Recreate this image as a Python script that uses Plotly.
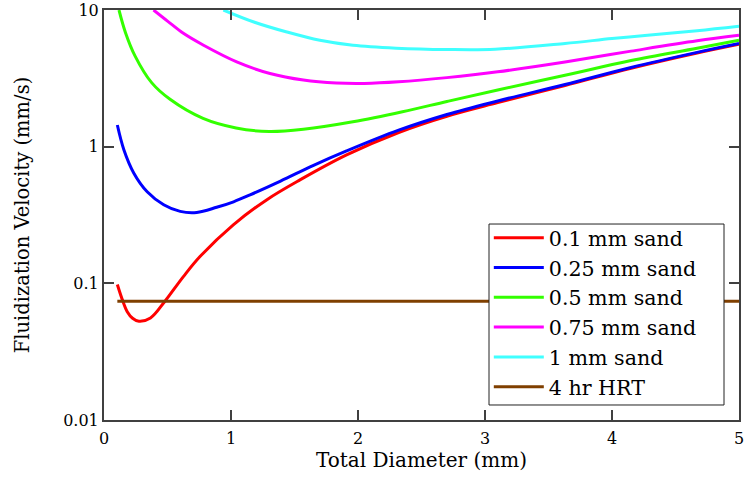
import plotly.graph_objects as go

# Total diameter (mm) and fluidization velocity (mm/s)
x_red = [0.105, 0.144, 0.183, 0.225, 0.275, 0.366, 0.48, 0.625, 0.756, 1.018, 1.28, 1.543, 1.91, 2.32, 2.7, 3.1, 3.63, 4.15, 4.67, 5.0]
y_red = [0.098, 0.076, 0.062, 0.0555, 0.0528, 0.0558, 0.074, 0.112, 0.157, 0.268, 0.408, 0.571, 0.87, 1.27, 1.67, 2.1, 2.8, 3.75, 4.85, 5.62]

x_blue = [0.105, 0.157, 0.235, 0.34, 0.47, 0.6, 0.73, 0.887, 1.02, 1.15, 1.39, 1.65, 1.91, 2.32, 2.7, 3.1, 3.63, 4.15, 4.67, 5.0]
y_blue = [1.44, 0.946, 0.64, 0.468, 0.376, 0.336, 0.33, 0.36, 0.395, 0.444, 0.56, 0.73, 0.93, 1.32, 1.72, 2.16, 2.85, 3.8, 4.9, 5.69]

x_green = [0.118, 0.17, 0.245, 0.375, 0.52, 0.78, 1.04, 1.3, 1.57, 1.96, 2.35, 2.7, 3.1, 3.63, 4.15, 4.67, 5.0]
y_green = [10.0, 6.8, 4.6, 2.94, 2.22, 1.61, 1.37, 1.29, 1.34, 1.52, 1.80, 2.14, 2.6, 3.33, 4.27, 5.25, 6.0]

x_magenta = [0.39, 0.5, 0.625, 0.784, 1.045, 1.307, 1.57, 1.83, 2.05, 2.32, 2.7, 3.1, 3.63, 4.15, 4.67, 5.0]
y_magenta = [10.0, 8.3, 6.75, 5.52, 4.17, 3.43, 3.07, 2.92, 2.9, 2.98, 3.2, 3.53, 4.17, 5.0, 5.95, 6.53]

x_cyan = [0.94, 1.18, 1.44, 1.70, 1.96, 2.30, 2.7, 3.08, 3.63, 4.0, 4.28, 4.67, 5.0]
y_cyan = [10.0, 8.17, 6.9, 6.0, 5.52, 5.26, 5.14, 5.16, 5.69, 6.18, 6.53, 7.05, 7.6]

x_hrt = [0.105, 5.0]
y_hrt = [0.074, 0.074]

series = [
    ("0.1 mm sand", x_red, y_red, "#ff0000"),
    ("0.25 mm sand", x_blue, y_blue, "#0000ff"),
    ("0.5 mm sand", x_green, y_green, "#33ff00"),
    ("0.75 mm sand", x_magenta, y_magenta, "#ff00ff"),
    ("1 mm sand", x_cyan, y_cyan, "#40ffff"),
    ("4 hr HRT", x_hrt, y_hrt, "#7f3f00"),
]

x_ticks = [0, 1, 2, 3, 4, 5]
y_ticks = [0.01, 0.1, 1, 10]
y_ticklabels = ["0.01", "0.1", "1", "10"]

fig = go.Figure()
for name, xs, ys, col in series:
    fig.add_trace(go.Scatter(x=xs, y=ys, name=name, mode="lines",
                             line=dict(color=col, width=3, shape="spline", smoothing=1.0)))

axis_col = "#404040"
font_fam = "DejaVu Serif"
fig.update_layout(
    width=752, height=500,
    margin=dict(l=104, r=13, t=10, b=80),
    paper_bgcolor="white", plot_bgcolor="white",
    font=dict(family=font_fam, color="black"),
    showlegend=True,
    legend=dict(x=0.606, y=0.493, xanchor="left", yanchor="top",
                bgcolor="rgba(0,0,0,0)", borderwidth=0,
                font=dict(family=font_fam, size=20.6, color="black"),
                itemwidth=50, tracegroupgap=0),
    shapes=[dict(type="rect", xref="paper", yref="paper",
                 x0=0.6063, x1=0.9764, y0=0.0366, y1=0.478,
                 fillcolor="white", line=dict(color="#222", width=1), layer="above")],
)
fig.update_xaxes(range=[0, 5], tickvals=x_ticks, ticktext=[str(v) for v in x_ticks],
                 automargin=False,
                 showgrid=False, zeroline=False, showline=True, linecolor=axis_col, linewidth=2,
                 mirror="ticks", ticks="inside", ticklen=10, tickcolor=axis_col, tickwidth=2,
                 tickfont=dict(family=font_fam, size=16), ticklabelstandoff=3,
                 title=dict(text="Total Diameter (mm)", font=dict(family=font_fam, size=20), standoff=5))
fig.update_yaxes(type="log", range=[-2, 1], tickvals=y_ticks, ticktext=y_ticklabels,
                 automargin=False,
                 showgrid=False, zeroline=False, showline=True, linecolor=axis_col, linewidth=2,
                 mirror="ticks", ticks="inside", ticklen=10, tickcolor=axis_col, tickwidth=2,
                 tickfont=dict(family=font_fam, size=16),
                 title=dict(text="Fluidization Velocity (mm/s)", font=dict(family=font_fam, size=19.5), standoff=28))

fig.write_html("out.html")
